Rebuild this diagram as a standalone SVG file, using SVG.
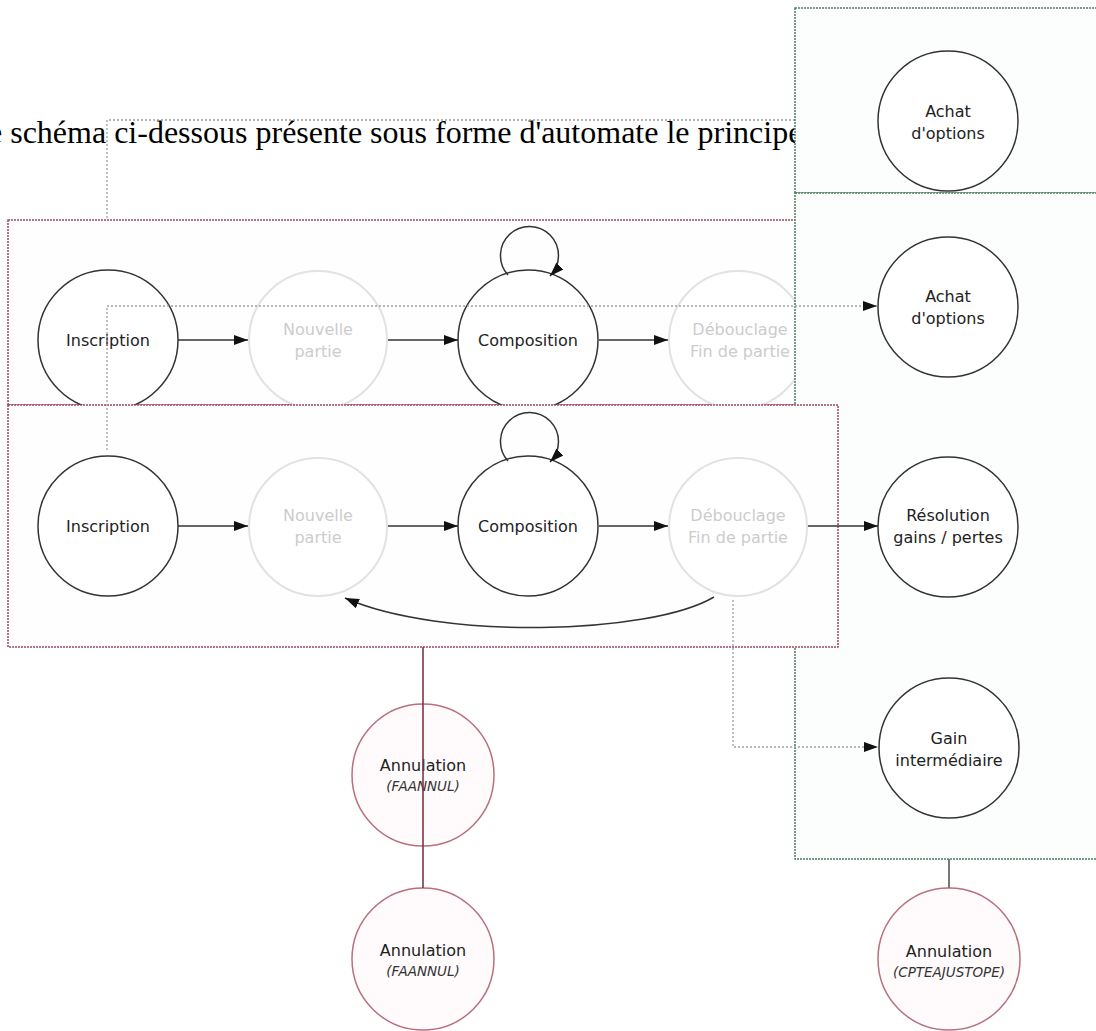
<svg xmlns="http://www.w3.org/2000/svg" width="1096" height="1031" viewBox="0 0 1096 1031">
<style>
.node{fill:#ffffff;stroke:#333333;stroke-width:1.5}
.faded{fill:#ffffff;stroke:#e2e2e2;stroke-width:2}
.annul{fill:#fffafb;stroke:#b8707e;stroke-width:1.5}
.lbl{font-family:"DejaVu Sans",Verdana,sans-serif;font-size:16px;fill:#222222;text-anchor:middle}
.flbl{font-family:"DejaVu Sans",Verdana,sans-serif;font-size:16px;fill:#cccccc;text-anchor:middle}
.code{font-family:"DejaVu Sans",Verdana,sans-serif;font-size:13.5px;font-style:italic;fill:#333333;text-anchor:middle}
.redbox{fill:#fffefe;stroke:#9a4a5a;stroke-width:1.5;stroke-dasharray:2 1}
.greenbox{fill:#fbfefc;stroke:#4f7d60;stroke-width:1.5;stroke-dasharray:2 1}
.edge{fill:none;stroke:#333333;stroke-width:1.5}
.dot{fill:none;stroke:#a0a0a0;stroke-width:1.3;stroke-dasharray:2 2}
.para{font-family:"Liberation Serif","Times New Roman",serif;font-size:32px;fill:#000000}
</style>
<defs>
<marker id="arr" markerWidth="14" markerHeight="10" refX="14" refY="5" orient="auto" markerUnits="userSpaceOnUse">
<path d="M0,0 L14,5 L0,10 z" fill="#111111"/>
</marker>
</defs>
<rect x="0" y="0" width="1096" height="1031" fill="#ffffff"/>
<text class="para" x="-12" y="143">e schéma ci-dessous présente sous forme d'automate le principe</text>
<g id="connectors-back">
<path class="dot" d="M107,450 V120 H876" marker-end="url(#arr)"/>
</g>
<g id="box-top-red">
<rect class="redbox" x="8" y="220" width="800" height="185"/>
</g>
<g id="n-inscription-1"><circle class="node" cx="108" cy="340" r="70"/><text class="lbl" x="108" y="346">Inscription</text></g>
<g id="n-nouvelle-1"><circle class="faded" cx="318" cy="340" r="69"/><text class="flbl" x="318" y="335">Nouvelle</text><text class="flbl" x="318" y="357">partie</text></g>
<g id="n-composition-1"><circle class="node" cx="528" cy="340" r="70"/><text class="lbl" x="528" y="346">Composition</text></g>
<g id="n-debouclage-1"><circle class="faded" cx="738" cy="340" r="69"/><text class="flbl" x="740" y="335">Débouclage</text><text class="flbl" x="740" y="357">Fin de partie</text></g>
<g id="box-green-top"><rect class="greenbox" x="795" y="8" width="320" height="185"/></g>
<g id="box-green-main"><rect class="greenbox" x="795" y="193" width="320" height="666"/></g>
<g id="n-achat-1"><circle class="node" cx="948" cy="121" r="70"/><text class="lbl" x="948" y="117">Achat</text><text class="lbl" x="948" y="139">d'options</text></g>
<g id="n-achat-2"><circle class="node" cx="948" cy="307" r="70"/><text class="lbl" x="948" y="302">Achat</text><text class="lbl" x="948" y="324">d'options</text></g>
<g id="n-resolution"><circle class="node" cx="948" cy="527" r="70"/><text class="lbl" x="948" y="521">Résolution</text><text class="lbl" x="948" y="543">gains / pertes</text></g>
<g id="n-gain"><circle class="node" cx="949" cy="748" r="70"/><text class="lbl" x="949" y="744">Gain</text><text class="lbl" x="949" y="766">intermédiaire</text></g>
<g id="box-bottom-red"><rect class="redbox" x="8" y="405" width="830" height="242"/></g>
<g id="n-inscription-2"><circle class="node" cx="108" cy="526" r="70"/><text class="lbl" x="108" y="532">Inscription</text></g>
<g id="n-nouvelle-2"><circle class="faded" cx="318" cy="527" r="69"/><text class="flbl" x="318" y="521">Nouvelle</text><text class="flbl" x="318" y="543">partie</text></g>
<g id="n-composition-2"><circle class="node" cx="528" cy="526" r="70"/><text class="lbl" x="528" y="532">Composition</text></g>
<g id="n-debouclage-2"><circle class="faded" cx="738" cy="527" r="69"/><text class="flbl" x="738" y="521">Débouclage</text><text class="flbl" x="738" y="543">Fin de partie</text></g>
<g id="n-annul-1"><circle class="annul" cx="423" cy="775" r="71"/><text class="lbl" x="423" y="771">Annulation</text><text class="code" x="423" y="791">(FAANNUL)</text></g>
<g id="n-annul-2"><circle class="annul" cx="423" cy="959" r="71"/><text class="lbl" x="423" y="956">Annulation</text><text class="code" x="423" y="976">(FAANNUL)</text></g>
<g id="n-annul-3"><circle class="annul" cx="949" cy="959" r="71"/><text class="lbl" x="949" y="957">Annulation</text><text class="code" x="949" y="977">(CPTEAJUSTOPE)</text></g>
<g id="connectors">
<path class="dot" d="M107,450 V306 H877" marker-end="url(#arr)"/>
<path class="dot" d="M733,600 V747 H878" marker-end="url(#arr)"/>
<path class="edge" d="M178,340 H248" marker-end="url(#arr)"/>
<path class="edge" d="M388,340 H458" marker-end="url(#arr)"/>
<path class="edge" d="M599,340 H668" marker-end="url(#arr)"/>
<path class="edge" d="M508,275 A29,29 0 1 1 550,276" marker-end="url(#arr)"/>
<path class="edge" d="M178,526 H248" marker-end="url(#arr)"/>
<path class="edge" d="M388,526 H458" marker-end="url(#arr)"/>
<path class="edge" d="M599,526 H668" marker-end="url(#arr)"/>
<path class="edge" d="M508,461 A29,29 0 1 1 550,462" marker-end="url(#arr)"/>
<path class="edge" d="M808,526 H878" marker-end="url(#arr)"/>
<path class="edge" d="M714,597 C650,635 440,640 345,598" marker-end="url(#arr)"/>
<path fill="none" stroke="#7a3845" stroke-width="1.6" d="M423,647 V888"/>
<path fill="none" stroke="#777777" stroke-width="2" d="M949,859 V888"/>
</g>
</svg>
